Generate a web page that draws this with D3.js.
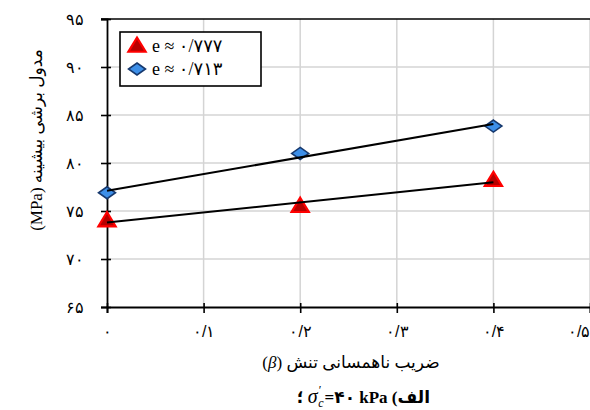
<!DOCTYPE html>
<html>
<head>
<meta charset="utf-8">
<script src="https://cdn.jsdelivr.net/npm/d3@7"></script>
<style>
  html, body { margin: 0; padding: 0; background: #fff; }
  svg { display: block; font-family: "Liberation Serif", "DejaVu Sans", serif; }
</style>
</head>
<body>
<div id="chart"></div>
<script>
// ---- data ----
const betaValues = [0, 0.2, 0.4];
const seriesNames = ["e ≈ ۰/۷۷۷", "e ≈ ۰/۷۱۳"];
const valuesTriangle = [74.0, 75.5, 78.2];   // e ≈ 0.777
const valuesDiamond  = [76.9, 81.0, 83.85];  // e ≈ 0.713
const xTicks = [0, 0.1, 0.2, 0.3, 0.4, 0.5];
const xTickLabels = ["۰", "۰/۱", "۰/۲", "۰/۳", "۰/۴", "۰/۵"];
const yTicks = [65, 70, 75, 80, 85, 90, 95];
const yTickLabels = ["۶۵", "۷۰", "۷۵", "۸۰", "۸۵", "۹۰", "۹۵"];
const yTitle = "(MPa) مدول برشی بیشینه";
const xTitleText = "ضریب ناهمسانی تنش";

(function () {
// ---- layout ----
const W = 590, H = 410;
const pL = 107, pR = 590, pT = 19, pB = 307;
const svg = d3.select("#chart").append("svg").attr("width", W).attr("height", H);

const x = d3.scaleLinear().domain([0, 0.5]).range([pL, pR]);
const y = d3.scaleLinear().domain([65, 95]).range([pB, pT]);

// gridlines
svg.append("g").selectAll("line").data(xTicks.slice(1)).join("line")
  .attr("x1", d => x(d)).attr("x2", d => x(d)).attr("y1", pT).attr("y2", pB)
  .attr("stroke", "#d4d4d4").attr("stroke-width", 1.5);
svg.append("g").selectAll("line").data(yTicks.slice(1, -1)).join("line")
  .attr("x1", pL).attr("x2", pR).attr("y1", d => y(d)).attr("y2", d => y(d))
  .attr("stroke", "#d4d4d4").attr("stroke-width", 1.5);

// top border
svg.append("line").attr("x1", pL - 6).attr("x2", pR).attr("y1", y(95)).attr("y2", y(95))
  .attr("stroke", "#000").attr("stroke-width", 1.6);

// y axis
const yAxis = svg.append("g").attr("transform", `translate(${pL},0)`)
  .call(d3.axisLeft(y).tickValues(yTicks).tickSize(6).tickFormat((d, i) => yTickLabels[i]).tickPadding(17));
yAxis.select(".domain").attr("stroke-width", 1.8);
yAxis.selectAll(".tick line").attr("stroke-width", 1.6).attr("x2", -6).attr("x1", 4);
yAxis.selectAll(".tick text").attr("font-size", 16).attr("fill", "#000");

// x axis
const xAxis = svg.append("g").attr("transform", `translate(0,${pB})`)
  .call(d3.axisBottom(x).tickValues(xTicks).tickSize(6).tickFormat((d, i) => xTickLabels[i]).tickPadding(13));
xAxis.select(".domain").attr("stroke-width", 1.8);
xAxis.selectAll(".tick line").attr("stroke-width", 1.6).attr("y1", -4).attr("y2", 6);
xAxis.selectAll(".tick text").attr("font-size", 16).attr("fill", "#000")
  .filter((d, i) => i === xTicks.length - 1).attr("text-anchor", "end").attr("x", 0);

// markers
const triPath = d3.symbol().type(d3.symbolTriangle).size(130);
function diamondPath(w, h) { return `M0,${-h}L${w},0L0,${h}L${-w},0Z`; }

function drawTri(g, cx, cy) {
  g.append("path").attr("d", triPath()).attr("transform", `translate(${cx},${cy + 1}) scale(1,0.95)`)
    .attr("fill", "#b80000").attr("stroke", "#ff0000").attr("stroke-width", 2.2).attr("stroke-linejoin", "miter");
}
function drawDia(g, cx, cy) {
  g.append("path").attr("d", diamondPath(8.5, 6)).attr("transform", `translate(${cx},${cy})`)
    .attr("fill", "#3d8fe8").attr("stroke", "#17396e").attr("stroke-width", 1.6);
}

const marks = svg.append("g");
betaValues.forEach((b, i) => drawTri(marks, x(b), y(valuesTriangle[i])));
betaValues.forEach((b, i) => drawDia(marks, x(b), y(valuesDiamond[i])));

// linear trend lines
function fit(xs, ys) {
  const mx = d3.mean(xs), my = d3.mean(ys);
  const s = d3.sum(xs, (v, i) => (v - mx) * (ys[i] - my)) / d3.sum(xs, v => (v - mx) ** 2);
  return v => my + s * (v - mx);
}
[valuesTriangle, valuesDiamond].forEach(vals => {
  const f = fit(betaValues, vals);
  const x0 = betaValues[0], x1 = betaValues[betaValues.length - 1];
  svg.append("line").attr("x1", x(x0)).attr("y1", y(f(x0))).attr("x2", x(x1)).attr("y2", y(f(x1)))
    .attr("stroke", "#000").attr("stroke-width", 2);
});

// legend
const lg = svg.append("g");
lg.append("rect").attr("x", 120).attr("y", 32).attr("width", 141).attr("height", 54)
  .attr("fill", "#fff").attr("stroke", "#000").attr("stroke-width", 1.6);
drawTri(lg, 137, 46);
drawDia(lg, 137, 69);
lg.append("text").attr("x", 152).attr("y", 52).attr("font-size", 18).attr("direction", "ltr").text(seriesNames[0]);
lg.append("text").attr("x", 152).attr("y", 75).attr("font-size", 18).attr("direction", "ltr").text(seriesNames[1]);

// y title (rotated)
svg.append("text").attr("transform", "translate(42,140) rotate(-90)")
  .attr("text-anchor", "middle").attr("font-size", 17).attr("direction", "ltr").text(yTitle);

// x title
const xt = svg.append("text").attr("x", 351).attr("y", 368).attr("text-anchor", "middle")
  .attr("font-size", 17).attr("direction", "ltr");
xt.append("tspan").text("(");
xt.append("tspan").attr("font-style", "italic").text("β");
xt.append("tspan").text(") " + xTitleText);

// caption
const cap = svg.append("text").attr("x", 430).attr("y", 403).attr("text-anchor", "end")
  .attr("font-size", 17).attr("direction", "ltr");
cap.append("tspan").attr("font-weight", "bold").text("؛ ");
cap.append("tspan").attr("font-style", "italic").attr("font-size", 20).text("σ");
cap.append("tspan").attr("font-size", 12).attr("dx", 1).attr("dy", -9).text("′");
cap.append("tspan").attr("font-size", 12).attr("dx", -3).attr("dy", 13).attr("font-style", "italic").text("c");
cap.append("tspan").attr("dy", -4).attr("dx", 1).attr("font-weight", "bold").text("=۴۰ kPa ");
cap.append("tspan").attr("font-weight", "bold").text("(الف");
})();
</script>
</body>
</html>
